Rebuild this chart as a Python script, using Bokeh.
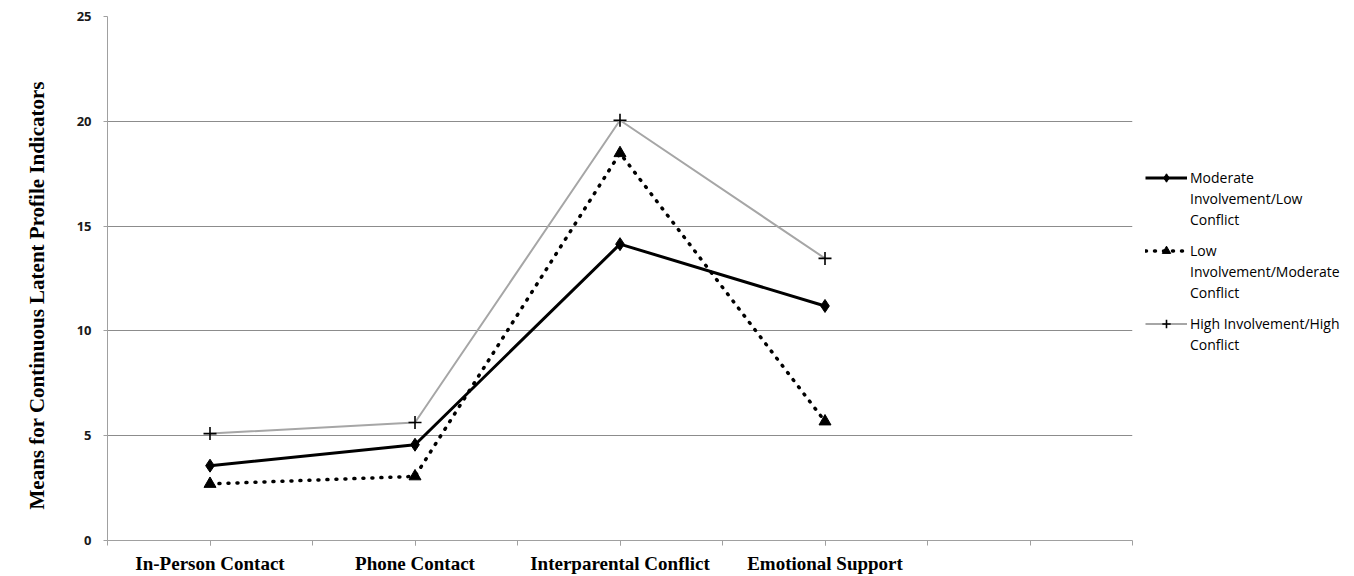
from bokeh.plotting import figure
from bokeh.layouts import row
from bokeh.models import FixedTicker, Legend, LegendItem, Range1d, Title
from bokeh.embed import file_html
from bokeh.resources import INLINE

categories = ["In-Person Contact", "Phone Contact", "Interparental Conflict", "Emotional Support"]
moderate = [3.57, 4.57, 14.14, 11.19]
low = [2.70, 3.06, 18.48, 5.68]
high = [5.10, 5.63, 20.05, 13.46]
series_names = [["Moderate", "Involvement/Low", "Conflict"],
                ["Low", "Involvement/Moderate", "Conflict"],
                ["High Involvement/High", "Conflict"]]
y_ticks = [0, 5, 10, 15, 20, 25]
y_title = "Means for Continuous Latent Profile Indicators"

x = list(range(1, len(categories) + 1))
x_max = len(categories) + 1.5
minor = [v / 2 for v in range(1, int(x_max * 2) + 1)]

styles = [
    dict(line=dict(line_color="black", line_width=3),
         marker=dict(marker="diamond", size=13, color="black")),
    dict(line=dict(line_color="black", line_width=3.5, line_dash="1 8", line_cap="round"),
         marker=dict(marker="triangle", size=12, color="black")),
    dict(line=dict(line_color="#a6a6a6", line_width=2),
         marker=dict(marker="cross", size=13, line_color="black", line_width=1.6)),
]

p = figure(width=1140, height=576, output_backend="svg", toolbar_location=None,
           x_range=Range1d(0.5, x_max), y_range=Range1d(0, 25),
           min_border_left=107, min_border_right=8, min_border_top=16, min_border_bottom=35)
p.outline_line_color = None

# axes
p.xaxis.ticker = FixedTicker(ticks=x, minor_ticks=minor)
p.xaxis.major_label_overrides = {i: c for i, c in zip(x, categories)}
p.xaxis.axis_line_color = "#a0a0a0"
p.xaxis.major_tick_line_color = "#a0a0a0"
p.xaxis.minor_tick_line_color = "#a0a0a0"
p.xaxis.major_tick_out = 5
p.xaxis.major_tick_in = 0
p.xaxis.minor_tick_out = 5
p.xaxis.minor_tick_in = 0
p.xaxis.major_label_text_font = "Liberation Serif"
p.xaxis.major_label_text_font_style = "bold"
p.xaxis.major_label_text_font_size = "19px"
p.xaxis.major_label_text_color = "black"
p.xaxis.major_label_standoff = 7

p.yaxis.ticker = FixedTicker(ticks=y_ticks, minor_ticks=[])
p.yaxis.axis_line_color = "#a0a0a0"
p.yaxis.major_tick_line_color = "#a0a0a0"
p.yaxis.major_tick_out = 4
p.yaxis.major_tick_in = 0
p.yaxis.minor_tick_line_color = None
p.yaxis.major_label_text_font = "Open Sans"
p.yaxis.major_label_text_font_style = "bold"
p.yaxis.major_label_text_font_size = "13px"
p.yaxis.major_label_text_color = "#1a1a1a"
p.yaxis.major_label_standoff = 12

title = Title(text=y_title, align="left", offset=31, standoff=46, vertical_align="top",
              text_font="Liberation Serif", text_font_style="bold",
              text_font_size="21px", text_color="black")
p.add_layout(title, "left")

p.xgrid.grid_line_color = None
p.ygrid.grid_line_color = "#8c8c8c"
p.ygrid.grid_line_width = 1

series = [moderate, low, high]
for vals, st in zip(series, styles):
    p.line(x, vals, **st["line"])
    p.scatter(x, vals, **st["marker"])

# legend panel to the right of the plot area (proxy renderers are hidden)
q = figure(width=214, height=576, output_backend="svg", toolbar_location=None,
           x_range=Range1d(0.5, x_max), y_range=Range1d(0, 25),
           x_axis_location=None, y_axis_location=None,
           min_border_left=0, min_border_right=0, min_border_top=0, min_border_bottom=0)
q.grid.visible = False
q.outline_line_color = None

legend_bottoms = [310.5, 237.5, 185.5]
for lines, vals, st, yb in zip(series_names, series, styles, legend_bottoms):
    lr = q.line(x, vals, visible=False, **st["line"])
    mr = q.scatter(x, vals, visible=False, **{**st["marker"], "size": st["marker"]["size"] * 0.7})
    items = [LegendItem(label=lines[0], renderers=[lr, mr])]
    items += [LegendItem(label=t) for t in lines[1:]]
    lg = Legend(items=items, location=(5, yb))
    lg.padding = 0
    lg.margin = 0
    lg.border_line_color = None
    lg.background_fill_alpha = 0
    lg.glyph_width = 42
    lg.glyph_height = 21
    lg.label_height = 21
    lg.label_standoff = 3
    lg.spacing = 0
    lg.label_text_font = "Open Sans"
    lg.label_text_font_size = "14px"
    lg.label_text_color = "black"
    q.add_layout(lg, "center")

open("out.html", "w").write(file_html(row(p, q), INLINE))
